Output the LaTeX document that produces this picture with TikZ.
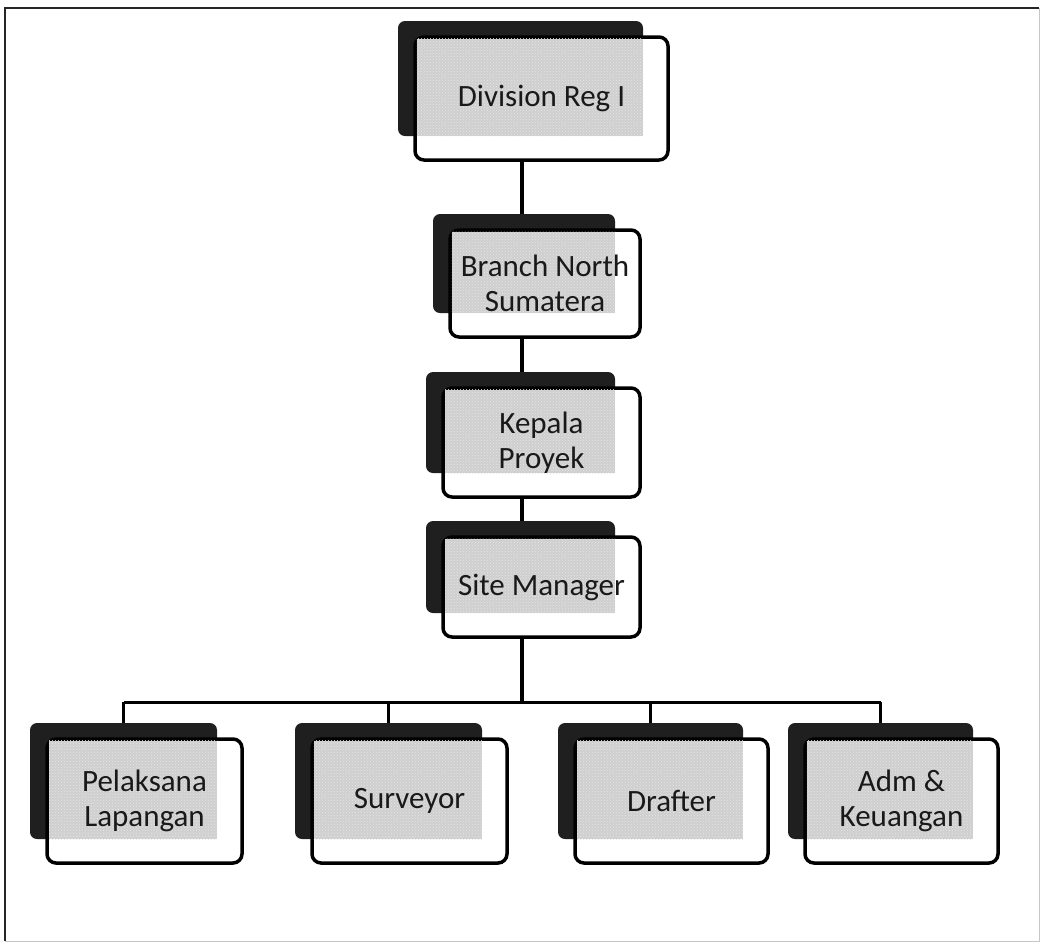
\documentclass[tikz,border=0pt]{standalone}
\usepackage{fontspec}
\setmainfont{Carlito}
\usetikzlibrary{patterns}
\newcommand\orgbox[6]{%
  \pgfmathsetmacro\ow{#4-#2}\pgfmathsetmacro\oh{#5-#3}%
  \pgfmathsetmacro\ocx{(#2+#4)/2}\pgfmathsetmacro\ocy{(#3+#5)/2}%
  \pgfmathsetmacro\osx{(#2+#4-42)/2}%
  \fill[darkback] (#2-17,#3-16) rectangle (#4-25,#5-24);
  \node[wbox, minimum width=\ow pt, minimum height=\oh pt] (#1) at (\ocx,\ocy) {};
  \fill[graybase] (#2+1.8,#3+1.8) rectangle (#4-25,#5-24);
  \fill[graydots] (#2+1.8,#3+1.8) rectangle (#4-25,#5-24);
  \coordinate (#1-top) at (\osx,#3-16);
  \node[txt] (#1-t) at (\ocx,\ocy) {#6};
}
\begin{document}
\begin{tikzpicture}[x=1pt,y=-1pt,
  darkback/.style={fill=black!88, rounded corners=7pt},
  wbox/.style={draw=black, line width=3.5pt, fill=white, rounded corners=9pt, inner sep=0pt, outer sep=0pt},
  graybase/.style={fill=gray!38},
  graydots/.style={pattern=crosshatch dots, pattern color=white!80!gray},
  txt/.style={font=\fontsize{31}{35}\selectfont, align=center, text=black!90, inner sep=0pt},
  vconn/.style={draw=black, line width=4.5pt},
  hconn/.style={draw=black, line width=3pt}]
\useasboundingbox (0,0) rectangle (1043,946);
% outer frame
\draw[gray!45, line width=1pt] (1039,8) -- (1039,941) -- (5,941);
\draw[black!85, line width=2pt] (5,941) -- (5,8) -- (1039,8);
% boxes
\orgbox{div}{415}{37}{668}{160}{Division Reg I}
\orgbox{br}{450}{230}{640}{337}{Branch North\\Sumatera}
\orgbox{kp}{443}{388}{640}{497}{Kepala\\Proyek}
\orgbox{sm}{443}{537}{640}{637}{Site Manager}
\orgbox{pl}{47}{739}{242}{863}{Pelaksana\\Lapangan}
\orgbox{sv}{312}{739}{507}{863}{Surveyor}
\orgbox{dr}{575}{739}{768}{863}{Drafter}
\orgbox{ad}{805}{739}{998}{863}{Adm \&\\Keuangan}
% connectors
\coordinate (trunk) at (522,0);
\coordinate (bus) at (522,702);
\draw[vconn] (div.south -| trunk) -- (br-top -| trunk);
\draw[vconn] (br.south -| trunk) -- (kp-top -| trunk);
\draw[vconn] (kp.south -| trunk) -- (sm-top -| trunk);
\draw[vconn] (sm.south -| trunk) -- (bus);
\draw[hconn] (pl-top |- bus) -- (ad-top |- bus);
\foreach \b in {pl,sv,dr,ad}{\draw[hconn] (\b-top |- bus) -- (\b-top);}
\end{tikzpicture}
\end{document}
